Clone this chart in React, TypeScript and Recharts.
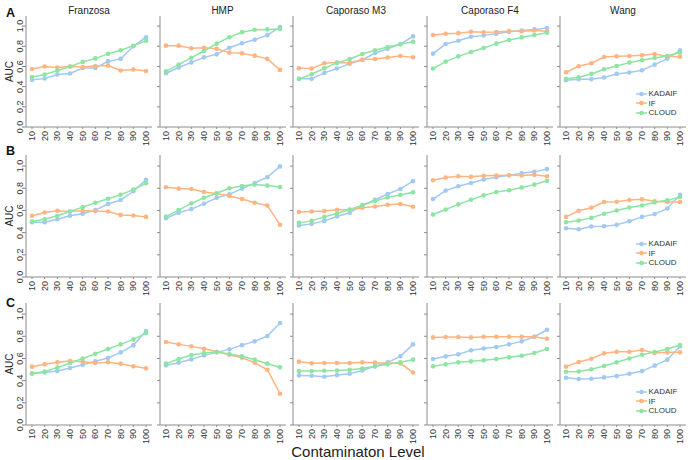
import { LineChart, Line, XAxis, YAxis, Legend } from "recharts";

const levels = [10, 20, 30, 40, 50, 60, 70, 80, 90, 100];
const datasets = ["Franzosa", "HMP", "Caporaso M3", "Caporaso F4", "Wang"];
const rowLabels = ["A", "B", "C"];
const yTicks = [0, 0.2, 0.4, 0.6, 0.8, 1.0];

const methods = [
  { key: "kadaif", name: "KADAIF", color: "#a1c9f4" },
  { key: "iforest", name: "IF", color: "#ffb482" },
  { key: "cloud", name: "CLOUD", color: "#8de5a1" },
];

// row A
const franzosaA = {
  kadaif: [0.467, 0.48, 0.52, 0.53, 0.585, 0.585, 0.65, 0.675, 0.8, 0.89],
  iforest: [0.575, 0.6, 0.59, 0.6, 0.595, 0.605, 0.61, 0.56, 0.57, 0.555],
  cloud: [0.495, 0.52, 0.56, 0.6, 0.645, 0.68, 0.725, 0.76, 0.805, 0.855],
};
const hmpA = {
  kadaif: [0.533, 0.589, 0.64, 0.69, 0.72, 0.786, 0.83, 0.865, 0.91, 0.99],
  iforest: [0.806, 0.806, 0.78, 0.786, 0.776, 0.737, 0.73, 0.707, 0.675, 0.566],
  cloud: [0.553, 0.618, 0.687, 0.753, 0.826, 0.89, 0.94, 0.964, 0.967, 0.97],
};
const m3A = {
  kadaif: [0.477, 0.477, 0.536, 0.579, 0.628, 0.664, 0.733, 0.776, 0.822, 0.898],
  iforest: [0.582, 0.579, 0.632, 0.638, 0.635, 0.668, 0.674, 0.688, 0.704, 0.69],
  cloud: [0.477, 0.523, 0.582, 0.635, 0.674, 0.724, 0.76, 0.793, 0.819, 0.845],
};
const f4A = {
  kadaif: [0.727, 0.822, 0.855, 0.895, 0.908, 0.924, 0.944, 0.957, 0.967, 0.98],
  iforest: [0.911, 0.924, 0.93, 0.944, 0.938, 0.941, 0.95, 0.95, 0.957, 0.95],
  cloud: [0.579, 0.648, 0.7, 0.743, 0.783, 0.826, 0.862, 0.888, 0.911, 0.934],
};
const wangA = {
  kadaif: [0.464, 0.474, 0.474, 0.49, 0.526, 0.54, 0.563, 0.618, 0.678, 0.76],
  iforest: [0.543, 0.602, 0.632, 0.694, 0.7, 0.704, 0.71, 0.724, 0.7, 0.697],
  cloud: [0.477, 0.493, 0.526, 0.572, 0.605, 0.638, 0.661, 0.684, 0.704, 0.74],
};

// row B
const franzosaB = {
  kadaif: [0.494, 0.494, 0.521, 0.552, 0.57, 0.603, 0.658, 0.694, 0.773, 0.876],
  iforest: [0.552, 0.582, 0.597, 0.591, 0.597, 0.594, 0.591, 0.56, 0.555, 0.542],
  cloud: [0.5, 0.521, 0.552, 0.591, 0.63, 0.67, 0.706, 0.742, 0.788, 0.845],
};
const hmpB = {
  kadaif: [0.53, 0.579, 0.612, 0.66, 0.715, 0.745, 0.797, 0.848, 0.9, 0.997],
  iforest: [0.809, 0.797, 0.794, 0.767, 0.752, 0.73, 0.703, 0.67, 0.645, 0.47],
  cloud: [0.545, 0.603, 0.664, 0.715, 0.755, 0.8, 0.82, 0.833, 0.824, 0.812],
};
const m3B = {
  kadaif: [0.464, 0.479, 0.506, 0.545, 0.579, 0.645, 0.697, 0.748, 0.794, 0.864],
  iforest: [0.585, 0.591, 0.594, 0.606, 0.606, 0.624, 0.636, 0.652, 0.658, 0.633],
  cloud: [0.488, 0.506, 0.542, 0.573, 0.609, 0.648, 0.685, 0.718, 0.739, 0.764],
};
const f4B = {
  kadaif: [0.703, 0.779, 0.818, 0.848, 0.879, 0.9, 0.918, 0.936, 0.948, 0.973],
  iforest: [0.873, 0.897, 0.909, 0.903, 0.912, 0.915, 0.918, 0.915, 0.921, 0.909],
  cloud: [0.564, 0.609, 0.655, 0.697, 0.736, 0.767, 0.782, 0.806, 0.833, 0.867],
};
const wangB = {
  kadaif: [0.439, 0.43, 0.455, 0.458, 0.47, 0.503, 0.542, 0.567, 0.618, 0.742],
  iforest: [0.542, 0.597, 0.624, 0.676, 0.679, 0.694, 0.7, 0.682, 0.676, 0.676],
  cloud: [0.494, 0.509, 0.533, 0.57, 0.6, 0.627, 0.645, 0.673, 0.691, 0.721],
};

// row C
const franzosaC = {
  kadaif: [0.465, 0.474, 0.486, 0.514, 0.544, 0.574, 0.604, 0.655, 0.718, 0.847],
  iforest: [0.526, 0.547, 0.565, 0.577, 0.571, 0.559, 0.565, 0.553, 0.529, 0.511],
  cloud: [0.465, 0.483, 0.517, 0.559, 0.6, 0.643, 0.685, 0.727, 0.772, 0.829],
};
const hmpC = {
  kadaif: [0.538, 0.562, 0.592, 0.628, 0.655, 0.682, 0.72, 0.754, 0.802, 0.919],
  iforest: [0.748, 0.727, 0.709, 0.688, 0.661, 0.634, 0.607, 0.562, 0.498, 0.282],
  cloud: [0.553, 0.595, 0.631, 0.649, 0.658, 0.64, 0.619, 0.589, 0.553, 0.52],
};
const m3C = {
  kadaif: [0.447, 0.444, 0.435, 0.45, 0.462, 0.492, 0.529, 0.565, 0.619, 0.727],
  iforest: [0.571, 0.556, 0.559, 0.559, 0.559, 0.565, 0.562, 0.559, 0.556, 0.474],
  cloud: [0.486, 0.486, 0.489, 0.492, 0.498, 0.51, 0.529, 0.547, 0.565, 0.589],
};
const f4C = {
  kadaif: [0.595, 0.619, 0.637, 0.673, 0.69, 0.703, 0.727, 0.754, 0.796, 0.859],
  iforest: [0.79, 0.793, 0.793, 0.79, 0.796, 0.796, 0.796, 0.796, 0.796, 0.778],
  cloud: [0.529, 0.547, 0.565, 0.574, 0.583, 0.595, 0.61, 0.625, 0.649, 0.685],
};
const wangC = {
  kadaif: [0.426, 0.414, 0.417, 0.429, 0.441, 0.462, 0.486, 0.535, 0.589, 0.709],
  iforest: [0.526, 0.568, 0.598, 0.646, 0.661, 0.661, 0.676, 0.649, 0.655, 0.655],
  cloud: [0.48, 0.483, 0.502, 0.532, 0.565, 0.6, 0.634, 0.658, 0.685, 0.721],
};

const panels = [
  [franzosaA, hmpA, m3A, f4A, wangA],
  [franzosaB, hmpB, m3B, f4B, wangB],
  [franzosaC, hmpC, m3C, f4C, wangC],
];

const FONT = "'Liberation Sans', Arial, sans-serif";
const AXIS = "#8c8c8c";
const TEXT = "#333";

const axisX = [26, 159.5, 293, 427, 560];
const plotTop = [16, 155, 303];
const plotH = [111, 122, 122];
const plotW = 126;
const yAxisW = 20;
const mTop = 4;
const xAxisH = 26;

const XTick = ({ x, y, payload }: any) => (
  <text
    transform={`translate(${x + 3},${y}) rotate(-90)`}
    textAnchor="end"
    fontSize={9}
    fontFamily={FONT}
    fill={TEXT}
  >
    {payload.value}
  </text>
);

const YTick = ({ x, y, payload }: any) => (
  <text
    transform={`translate(${x},${y}) rotate(-90)`}
    textAnchor="middle"
    fontSize={9}
    fontFamily={FONT}
    fill={TEXT}
  >
    {Number(payload.value).toFixed(1)}
  </text>
);

const NoTick = () => <g />;

const renderLegend = () => (
  <div style={{ fontFamily: FONT, fontSize: 8, color: TEXT }}>
    {methods.map((m) => (
      <div key={m.key} style={{ display: "flex", alignItems: "center", height: 9.5 }}>
        <svg width={12} height={8} style={{ marginRight: 1 }}>
          <line x1={0} y1={4} x2={11} y2={4} stroke={m.color} strokeWidth={1.5} />
          <circle cx={5.5} cy={4} r={2.3} fill={m.color} />
        </svg>
        <span>{m.name}</span>
      </div>
    ))}
  </div>
);

function Panel({ row, col }: { row: number; col: number }) {
  const p: any = panels[row][col];
  const data = levels.map((lv, i) => ({
    level: lv,
    kadaif: p.kadaif[i],
    iforest: p.iforest[i],
    cloud: p.cloud[i],
  }));
  const h = mTop + plotH[row] + xAxisH;
  return (
    <div
      style={{
        position: "absolute",
        left: axisX[col] - yAxisW,
        top: plotTop[row] - mTop,
      }}
    >
      <LineChart
        width={yAxisW + plotW + 2}
        height={h}
        data={data}
        margin={{ top: mTop, right: 2, left: 0, bottom: 0 }}
      >
        <XAxis
          dataKey="level"
          type="category"
          interval={0}
          padding={{ left: 6, right: 6 }}
          height={xAxisH}
          stroke={AXIS}
          tickSize={2}
          tickMargin={2}
          tick={<XTick />}
        />
        <YAxis
          domain={[0, 1.1]}
          ticks={yTicks}
          interval={0}
          width={yAxisW}
          stroke={AXIS}
          tickSize={3}
          tickMargin={0}
          tick={col === 0 ? <YTick /> : <NoTick />}
        />
        {methods.map((m) => (
          <Line
            key={m.key}
            dataKey={m.key}
            name={m.name}
            stroke={m.color}
            strokeWidth={1.5}
            dot={{ r: 2.3, fill: m.color, strokeWidth: 0 }}
            isAnimationActive={false}
          />
        ))}
        {col === 4 && (
          <Legend
            layout="vertical"
            align="center"
            verticalAlign="middle"
            content={renderLegend}
            wrapperStyle={{
              left: 95.5,
              top: mTop + plotH[row] - 38,
              width: 50,
              height: 30,
            }}
          />
        )}
      </LineChart>
    </div>
  );
}

export default function App() {
  return (
    <div
      style={{
        position: "absolute",
        left: 0,
        top: 0,
        width: 691,
        height: 460,
        background: "#fff",
        overflow: "hidden",
      }}
    >
      {rowLabels.map((_, r) =>
        datasets.map((_, c) => <Panel key={`${r}-${c}`} row={r} col={c} />)
      )}
      <svg
        width={691}
        height={460}
        style={{ position: "absolute", left: 0, top: 0, pointerEvents: "none" }}
      >
        {datasets.map((d, c) => (
          <text
            key={d}
            x={axisX[c] + plotW / 2}
            y={13.5}
            textAnchor="middle"
            fontSize={10}
            fontFamily={FONT}
            fill="#222"
          >
            {d}
          </text>
        ))}
        {rowLabels.map((l, r) => (
          <g key={l}>
            <text
              x={6}
              y={[17, 155, 307][r]}
              fontSize={12.5}
              fontWeight="bold"
              fontFamily={FONT}
              fill="#111"
            >
              {l}
            </text>
            <text
              transform={`translate(13,${plotTop[r] + plotH[r] / 2}) rotate(-90)`}
              textAnchor="middle"
              fontSize={10}
              fontFamily={FONT}
              fill="#222"
            >
              AUC
            </text>
          </g>
        ))}
        <text
          x={358}
          y={456.5}
          textAnchor="middle"
          fontSize={15}
          fontFamily={FONT}
          fill="#222"
        >
          Contaminaton Level
        </text>
      </svg>
    </div>
  );
}
